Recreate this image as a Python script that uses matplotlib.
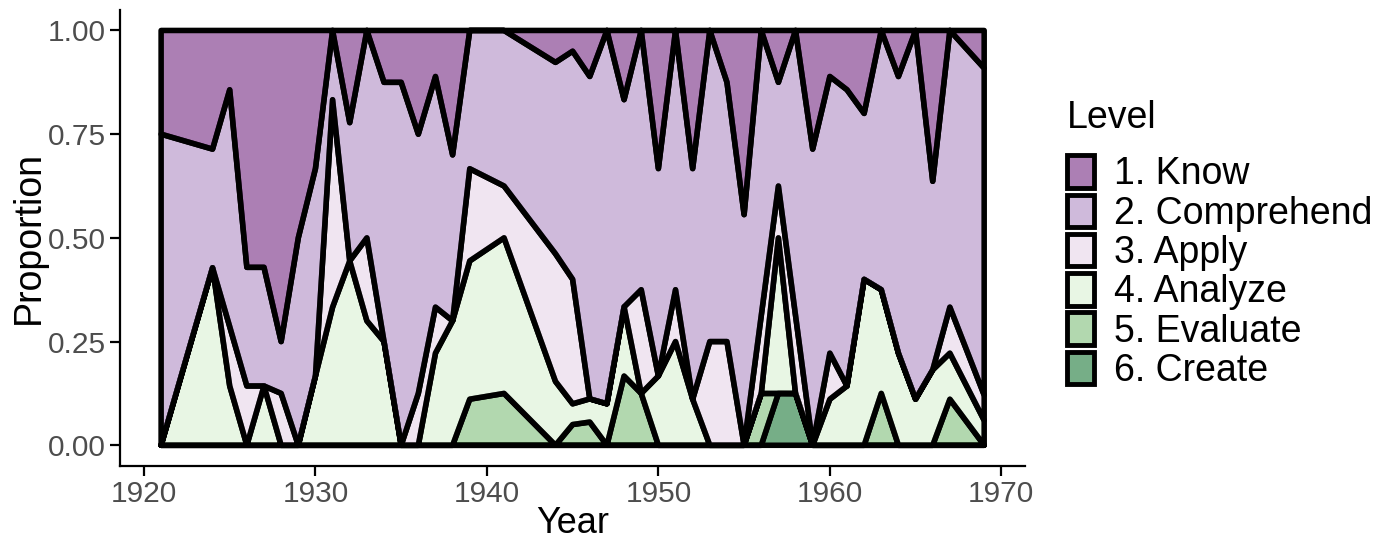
import numpy as np
import matplotlib.pyplot as plt
from matplotlib.patches import Patch
from matplotlib.colors import to_rgba

plt.rcParams['font.family'] = ['Liberation Sans', 'DejaVu Sans']

years = [1921, 1924, 1925, 1926, 1927, 1928, 1929, 1930, 1931, 1932,
         1933, 1934, 1935, 1936, 1937, 1938, 1939, 1941, 1944, 1945,
         1946, 1947, 1948, 1949, 1950, 1951, 1952, 1953, 1954, 1955,
         1956, 1957, 1958, 1959, 1960, 1961, 1962, 1963, 1964, 1965,
         1966, 1967, 1969]

know = [0.25, 0.286, 0.143, 0.571, 0.571, 0.75, 0.5, 0.333, 0.0, 0.222,
        0.0, 0.125, 0.125, 0.25, 0.111, 0.3, 0.0, 0.0, 0.077, 0.05,
        0.111, 0.0, 0.167, 0.0, 0.333, 0.0, 0.333, 0.0, 0.125, 0.444,
        0.0, 0.125, 0.0, 0.286, 0.111, 0.143, 0.2, 0.0, 0.111, 0.0,
        0.364, 0.0, 0.091]
comprehend = [0.75, 0.286, 0.571, 0.286, 0.286, 0.125, 0.5, 0.5, 0.167, 0.333,
              0.5, 0.625, 0.875, 0.625, 0.556, 0.4, 0.333, 0.375, 0.462, 0.55,
              0.778, 0.9, 0.5, 0.625, 0.5, 0.625, 0.556, 0.75, 0.625, 0.556,
              0.688, 0.25, 0.688, 0.714, 0.667, 0.714, 0.4, 0.625, 0.667, 0.889,
              0.455, 0.667, 0.788]
apply_ = [0.0, 0.0, 0.143, 0.143, 0.0, 0.125, 0.0, 0.0, 0.5, 0.0,
          0.2, 0.0, 0.0, 0.125, 0.111, 0.0, 0.222, 0.125, 0.308, 0.3,
          0.0, 0.0, 0.0, 0.25, 0.0, 0.125, 0.0, 0.25, 0.25, 0.0,
          0.188, 0.125, 0.188, 0.0, 0.111, 0.0, 0.0, 0.0, 0.0, 0.0,
          0.0, 0.111, 0.061]
analyze = [0.0, 0.428, 0.143, 0.0, 0.143, 0.0, 0.0, 0.167, 0.333, 0.444,
           0.3, 0.25, 0.0, 0.0, 0.222, 0.3, 0.333, 0.375, 0.154, 0.05,
           0.056, 0.1, 0.167, 0.0, 0.167, 0.25, 0.111, 0.0, 0.0, 0.0,
           0.0, 0.375, 0.0, 0.0, 0.111, 0.143, 0.4, 0.25, 0.222, 0.111,
           0.182, 0.111, 0.06]
evaluate = [0.0, 0.0, 0.0, 0.0, 0.0, 0.0, 0.0, 0.0, 0.0, 0.0,
            0.0, 0.0, 0.0, 0.0, 0.0, 0.0, 0.111, 0.125, 0.0, 0.05,
            0.056, 0.0, 0.167, 0.125, 0.0, 0.0, 0.0, 0.0, 0.0, 0.0,
            0.125, 0.0, 0.0, 0.0, 0.0, 0.0, 0.0, 0.125, 0.0, 0.0,
            0.0, 0.111, 0.0]
create = [0.0, 0.0, 0.0, 0.0, 0.0, 0.0, 0.0, 0.0, 0.0, 0.0,
          0.0, 0.0, 0.0, 0.0, 0.0, 0.0, 0.0, 0.0, 0.0, 0.0,
          0.0, 0.0, 0.0, 0.0, 0.0, 0.0, 0.0, 0.0, 0.0, 0.0,
          0.0, 0.125, 0.125, 0.0, 0.0, 0.0, 0.0, 0.0, 0.0, 0.0,
          0.0, 0.0, 0.0]

levels = ['1. Know', '2. Comprehend', '3. Apply', '4. Analyze',
          '5. Evaluate', '6. Create']
colors = ['#762a83', '#af8dc3', '#e7d4e8', '#d9f0d3', '#7fbf7b', '#1b7837']
alpha = 0.6

x = np.array(years)
series = [know, comprehend, apply_, analyze, evaluate, create]
# normalise each year to proportions
mat = np.array(series, dtype=float)
mat = mat / mat.sum(axis=0)

fig = plt.figure(figsize=(13.95, 5.4), dpi=100)
ax = fig.add_axes([0.086, 0.137, 0.649, 0.845])

# stack from the bottom (Create) upward, Know on top
lower = np.zeros(len(x))
for i in range(len(levels) - 1, -1, -1):
    upper = lower + mat[i]
    ax.fill_between(x, lower, upper, facecolor=colors[i], alpha=alpha,
                    edgecolor='none')
    ax.fill_between(x, lower, upper, facecolor='none', edgecolor='black',
                    linewidth=4.0, joinstyle='round')
    lower = upper

ax.set_xlim(1918.6, 1971.4)
ax.set_ylim(-0.05, 1.05)
ax.set_xticks([1920, 1930, 1940, 1950, 1960, 1970])
ax.set_yticks([0, 0.25, 0.5, 0.75, 1.0])
ax.set_yticklabels(['0.00', '0.25', '0.50', '0.75', '1.00'])
for s in ['top', 'right']:
    ax.spines[s].set_visible(False)
for s in ['left', 'bottom']:
    ax.spines[s].set_linewidth(1.6)
ax.tick_params(axis='both', labelsize=21.5, labelcolor='#4D4D4D',
               color='black', width=1.6, length=7, pad=3)
ax.set_xlabel('Year', fontsize=26)
ax.set_ylabel('Proportion', fontsize=27)
ax.xaxis.set_label_coords(0.5, -0.088)
ax.yaxis.set_label_coords(-0.081, 0.5)

handles = [Patch(facecolor=to_rgba(c, alpha), edgecolor='black',
                 linewidth=3.5) for c in colors]
leg = fig.legend(handles, levels, loc='upper left',
                 bbox_to_anchor=(0.754, 0.843), frameon=False, fontsize=27,
                 title='Level', title_fontsize=27, handlelength=0.72,
                 handleheight=0.95, labelspacing=0.06, handletextpad=0.55,
                 borderaxespad=0)
leg._legend_box.align = 'left'
leg._legend_box.sep = 14

fig.savefig('out.png', dpi=100)
